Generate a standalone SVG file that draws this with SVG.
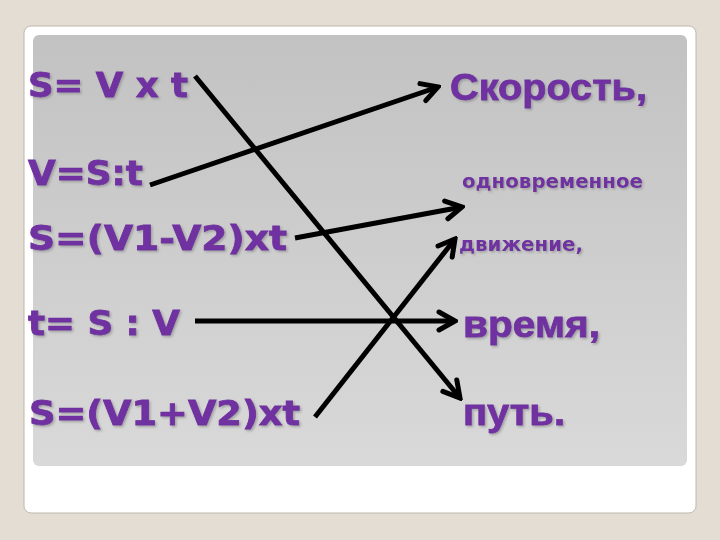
<svg xmlns="http://www.w3.org/2000/svg" width="720" height="540" viewBox="0 0 720 540">
<defs>
<linearGradient id="panel" x1="0" y1="0" x2="0" y2="1">
<stop offset="0" stop-color="#c2c2c2"/>
<stop offset="1" stop-color="#d9d9d9"/>
</linearGradient>
<filter id="sh" x="-10%" y="-20%" width="120%" height="150%">
<feDropShadow dx="1.5" dy="1.5" stdDeviation="1" flood-color="#8a8a8a" flood-opacity="0.7"/>
</filter>
<marker id="ah" viewBox="0 0 24 24" refX="21" refY="12" markerWidth="24" markerHeight="24" markerUnits="userSpaceOnUse" orient="auto">
<path d="M5,3 L21,12 L5,21" fill="none" stroke="#000" stroke-width="5" stroke-linecap="round" stroke-linejoin="miter"/>
</marker>
<style>
.l{font-family:"DejaVu Sans",Verdana,sans-serif;font-weight:bold;font-size:33px;fill:#7030a0;stroke:#7030a0;stroke-width:0.8;filter:url(#sh)}
.r{font-family:"Liberation Sans",Arial,sans-serif;font-weight:bold;font-size:37px;fill:#7030a0;stroke:#7030a0;stroke-width:0.8;filter:url(#sh)}
.s{font-family:"DejaVu Sans",Verdana,sans-serif;font-weight:bold;font-size:19px;fill:#7030a0;filter:url(#sh)}
.c{stroke:#000;stroke-width:5;fill:none;stroke-linecap:butt}
</style>
</defs>
<rect width="720" height="540" fill="#e3ddd3"/>
<rect x="24" y="26" width="672" height="487" rx="7" fill="#fff" stroke="#bdb8ae" stroke-width="1"/>
<rect x="33" y="35" width="654" height="431" rx="6" fill="url(#panel)"/>
<g id="n1"><text class="l" x="28" y="97" textLength="160" lengthAdjust="spacingAndGlyphs">S= V x t</text></g>
<g id="n2"><text class="l" x="28" y="185" textLength="115" lengthAdjust="spacingAndGlyphs">V=S:t</text></g>
<g id="n3"><text class="l" x="28" y="250" textLength="259" lengthAdjust="spacingAndGlyphs">S=(V1-V2)xt</text></g>
<g id="n4"><text class="l" x="28" y="335" textLength="152" lengthAdjust="spacingAndGlyphs">t= S : V</text></g>
<g id="n5"><text class="l" x="29" y="425" textLength="271" lengthAdjust="spacingAndGlyphs">S=(V1+V2)xt</text></g>
<g id="n6"><text class="r" x="450" y="100" textLength="197" lengthAdjust="spacingAndGlyphs">Скорость,</text></g>
<g id="n7"><text class="s" x="462" y="188" textLength="181" lengthAdjust="spacingAndGlyphs">одновременное</text></g>
<g id="n8"><text class="s" x="459" y="251" textLength="124" lengthAdjust="spacingAndGlyphs">движение,</text></g>
<g id="n9"><text class="r" x="463" y="337" textLength="137" lengthAdjust="spacingAndGlyphs">время,</text></g>
<g id="n10"><text class="r" x="463" y="425" textLength="102" lengthAdjust="spacingAndGlyphs">путь.</text></g>
<g id="connectors">
<line class="c" x1="195" y1="76" x2="460" y2="398" marker-end="url(#ah)"/>
<line class="c" x1="150" y1="185" x2="438" y2="87" marker-end="url(#ah)"/>
<line class="c" x1="295" y1="238" x2="462" y2="207" marker-end="url(#ah)"/>
<line class="c" x1="195" y1="321" x2="455" y2="321" stroke-width="6" marker-end="url(#ah)"/>
<line class="c" x1="315" y1="417" x2="455" y2="239" marker-end="url(#ah)"/>
</g>
</svg>
